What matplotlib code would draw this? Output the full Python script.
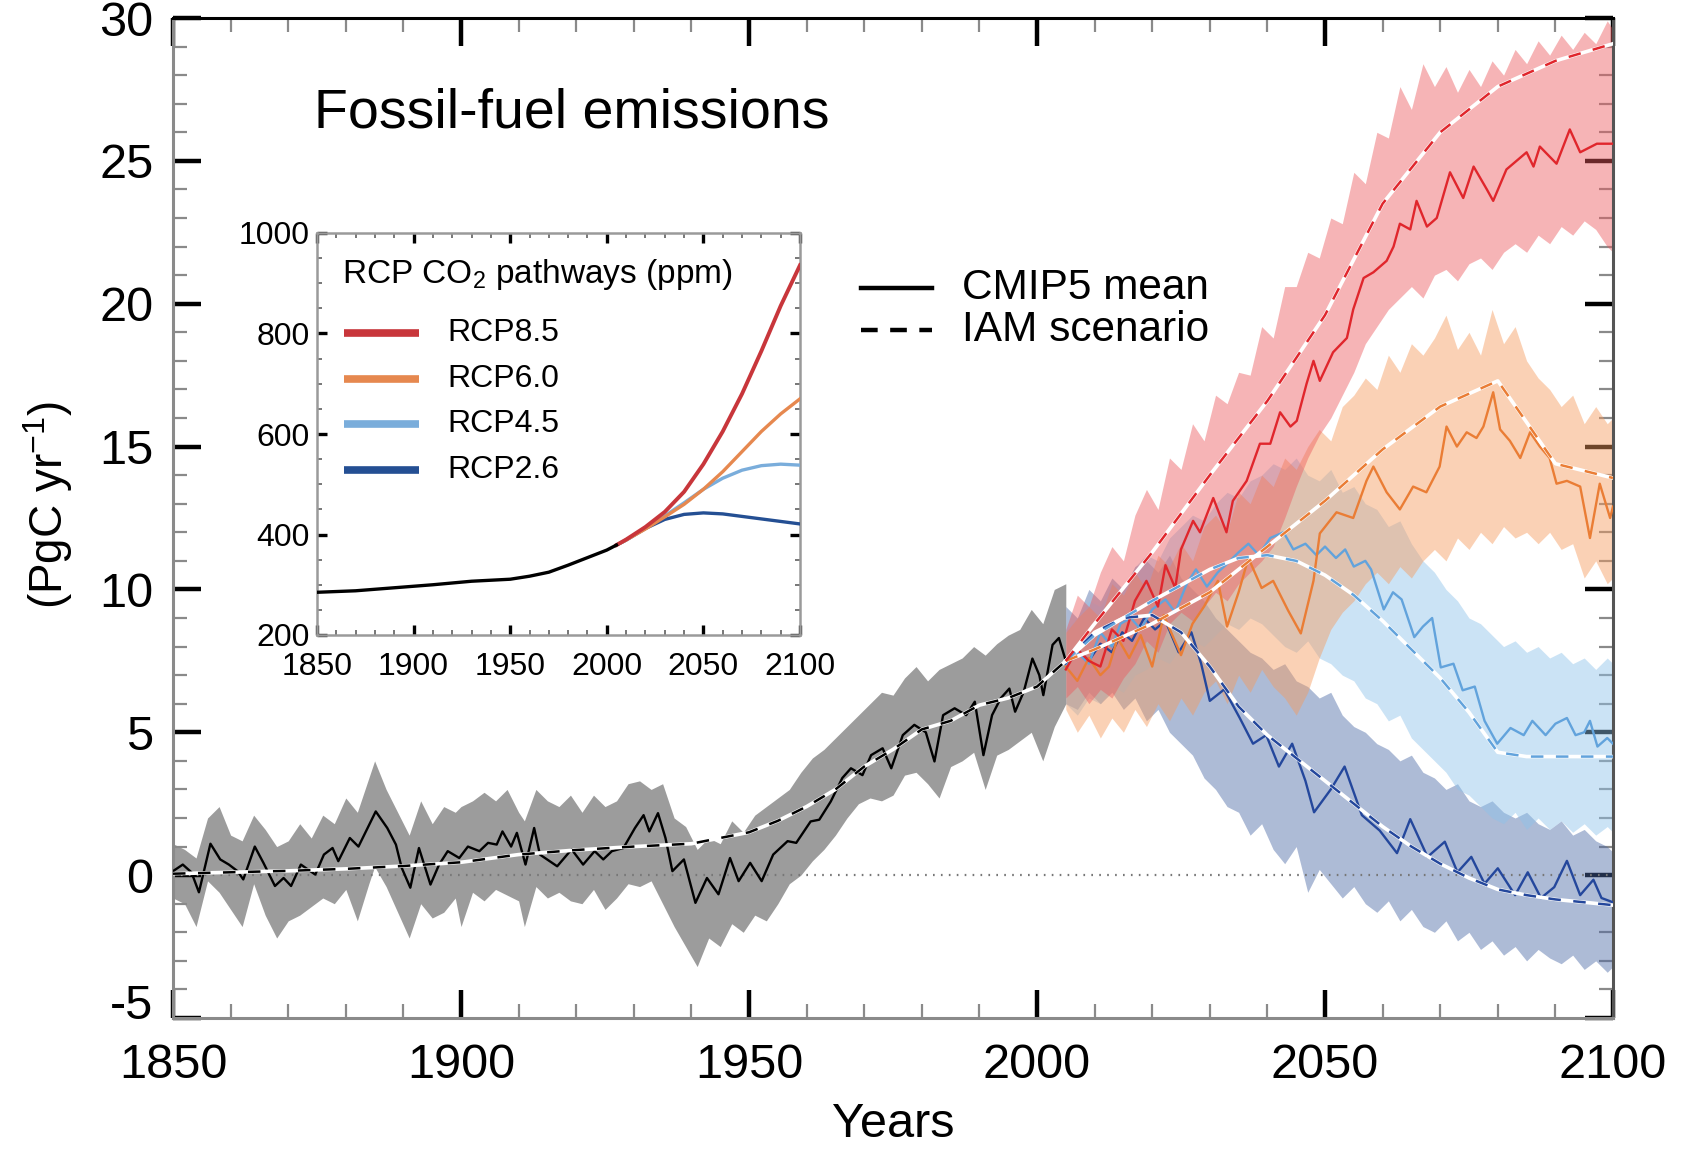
import matplotlib
matplotlib.use("Agg")
import matplotlib.pyplot as plt
import matplotlib.transforms as mtransforms
from matplotlib.lines import Line2D
from matplotlib.ticker import MultipleLocator

plt.rcParams['font.family'] = ['Liberation Sans', 'DejaVu Sans']
plt.rcParams['mathtext.default'] = 'regular'
plt.rcParams['lines.scale_dashes'] = False
plt.rcParams['axes.unicode_minus'] = False

# ---------------- main panel data (PgC/yr) ----------------
hist_years = [1850.0, 1851.7, 1853.2, 1854.5, 1856.5, 1858.2, 1859.7, 1861.2, 1862.2, 1864.2, 1865.7,
              1867.7, 1869.2, 1870.5, 1872.2, 1874.7, 1876.2, 1877.7, 1878.7, 1880.7, 1882.2, 1885.2,
              1887.2, 1888.7, 1889.7, 1891.2, 1892.7, 1894.7, 1896.2, 1897.7, 1899.7, 1901.2, 1903.2,
              1904.7, 1906.2, 1907.2, 1908.7, 1909.7, 1911.2, 1912.7, 1913.7, 1916.7, 1919.2, 1921.2,
              1923.2, 1924.7, 1926.2, 1928.2, 1930.2, 1931.7, 1932.7, 1934.2, 1935.5, 1936.7, 1938.7,
              1940.7, 1942.7, 1944.7, 1946.7, 1948.2, 1950.2, 1952.2, 1954.2, 1956.7, 1958.2, 1960.7,
              1962.2, 1964.2, 1966.2, 1967.7, 1969.7, 1971.2, 1973.2, 1974.7, 1976.7, 1978.7, 1980.7,
              1982.2, 1983.7, 1985.7, 1987.7, 1989.2, 1990.7, 1992.2, 1993.7, 1995.2, 1996.2, 1997.7,
              1999.2, 2000.4, 2001.1, 2002.7, 2003.8, 2005.0]
hist_mean = [0.14, 0.37, 0.10, -0.60, 1.10, 0.55, 0.37, 0.14, -0.15, 1.00, 0.43,
             -0.38, -0.10, -0.38, 0.37, 0.02, 0.72, 0.95, 0.49, 1.30, 1.00, 2.23,
             1.65, 1.07, 0.26, -0.44, 0.95, -0.33, 0.37, 0.84, 0.60, 1.00, 0.84,
             1.13, 1.07, 1.53, 1.00, 1.48, 0.37, 1.65, 0.72, 0.31, 0.90, 0.37,
             0.84, 0.55, 0.84, 0.95, 1.65, 2.10, 1.53, 2.17, 1.30, 0.14, 0.55,
             -0.97, -0.10, -0.67, 0.60, -0.21, 0.43, -0.21, 0.72, 1.19, 1.13, 1.88,
             1.94, 2.58, 3.40, 3.74, 3.50, 4.20, 4.44, 3.74, 4.90, 5.26, 5.00,
             3.98, 5.60, 5.84, 5.60, 6.07, 4.20, 5.60, 6.19, 6.53, 5.72, 6.42,
             7.58, 7.00, 6.30, 8.06, 8.30, 7.50]

hist_band_years = [1850, 1852, 1854, 1856, 1858, 1860, 1862, 1864, 1866, 1868, 1870, 1872, 1874,
                   1876, 1878, 1880, 1882, 1884, 1885, 1887, 1889, 1891, 1893, 1895, 1897, 1899,
                   1900, 1902, 1904, 1906, 1908, 1910, 1911, 1913, 1915, 1917, 1919, 1921, 1923,
                   1925, 1927, 1929, 1931, 1933, 1935, 1937, 1939, 1941, 1943, 1945, 1947, 1949,
                   1951, 1953, 1955, 1957, 1959, 1961, 1963, 1965, 1967, 1969, 1971, 1973, 1975,
                   1977, 1979, 1981, 1983, 1985, 1987, 1989, 1991, 1993, 1995, 1997, 1999, 2001,
                   2003, 2005]
hist_low = [-0.8, -1.0, -1.8, -0.2, -0.6, -1.2, -1.8, -0.3, -1.4, -2.2, -1.6, -1.4, -1.1,
            -0.8, -1.0, -0.5, -1.6, -0.3, 0.3, -0.4, -1.3, -2.2, -1.0, -1.5, -1.3, -0.8,
            -1.8, -0.6, -0.9, -0.5, -0.7, -0.9, -1.8, -0.4, -0.8, -0.6, -0.9, -1.0, -0.5,
            -1.2, -0.8, -0.3, -0.4, -0.2, -1.0, -1.8, -2.5, -3.2, -2.2, -2.5, -1.7, -2.0,
            -1.4, -1.6, -1.0, -0.3, 0.0, 0.5, 0.9, 1.4, 2.0, 2.5, 2.7, 2.6, 2.8,
            3.5, 3.6, 3.2, 2.7, 3.8, 4.0, 4.3, 3.0, 4.2, 4.4, 4.7, 5.0, 4.0,
            5.2, 6.0]
hist_high = [1.1, 0.9, 0.6, 2.0, 2.4, 1.4, 1.2, 2.1, 1.6, 1.0, 1.2, 1.8, 1.3,
             2.1, 1.8, 2.7, 2.2, 3.4, 4.0, 3.0, 2.2, 1.4, 2.6, 1.8, 2.4, 2.2,
             2.4, 2.6, 2.9, 2.6, 3.0, 2.2, 1.9, 3.0, 2.6, 2.4, 2.8, 2.2, 2.8,
             2.4, 2.6, 3.2, 3.3, 3.0, 3.2, 2.0, 1.7, 0.9, 1.3, 1.1, 1.9, 1.5,
             2.1, 2.4, 2.7, 3.0, 3.6, 4.1, 4.4, 4.8, 5.2, 5.6, 6.0, 6.4, 6.3,
             6.9, 7.3, 6.8, 7.2, 7.4, 7.6, 8.0, 7.7, 8.1, 8.4, 8.6, 9.3, 8.8,
             10.0, 10.2]

hist_iam_years = [1850, 1860, 1870, 1880, 1890, 1900, 1910, 1920, 1930, 1940, 1950, 1955, 1960,
                  1965, 1970, 1975, 1980, 1985, 1990, 1995, 2000, 2005]
hist_iam = [0.05, 0.1, 0.15, 0.22, 0.32, 0.45, 0.72, 0.88, 1.0, 1.1, 1.5, 1.9, 2.4,
            3.0, 3.8, 4.4, 5.1, 5.4, 5.95, 6.2, 6.6, 7.5]

# future ensembles (CMIP5 mean)
rcp85_years = [2005, 2007, 2009, 2011, 2013, 2015, 2017, 2019, 2021, 2022.3, 2024, 2025, 2027.1,
               2028.3, 2030.6, 2032.9, 2034, 2036.4, 2038.7, 2040.5, 2042.2, 2044, 2045.1, 2046.8,
               2048, 2049.1, 2051.4, 2053.8, 2054.9, 2056.7, 2058.4, 2060.7, 2061.9, 2063, 2064.8,
               2065.9, 2067.7, 2069.4, 2071.7, 2074, 2075.8, 2078.1, 2079.2, 2081.5, 2085, 2086.2,
               2087.3, 2090.2, 2092.5, 2094.3, 2097.2, 2100]
rcp85_mean = [7.2, 7.9, 7.5, 7.3, 8.6, 8.2, 9.6, 10.3, 9.4, 10.85, 10.05, 11.4, 12.4,
              12.0, 13.2, 12.0, 13.1, 13.8, 15.1, 15.1, 16.2, 15.7, 15.9, 17.2,
              18.0, 17.3, 18.3, 18.8, 19.8, 20.9, 21.1, 21.5, 22.0, 22.8, 22.6,
              23.6, 22.7, 23.0, 24.6, 23.7, 24.8, 24.0, 23.6, 24.7, 25.3, 24.8,
              25.5, 24.9, 26.1, 25.3, 25.6, 25.6]

rcp60_years = [2005, 2007, 2009, 2011, 2012.5, 2014, 2016, 2018, 2020, 2022, 2025, 2027, 2029,
               2031.4, 2033, 2035, 2036.7, 2039, 2041, 2043.6, 2045.8, 2048, 2049.1, 2052, 2054.9,
               2057.2, 2058.4, 2060.7, 2063, 2065.3, 2067.6, 2069.9, 2071.1, 2072.9, 2074.6,
               2076.3, 2077.5, 2079.2, 2080.4, 2082.1, 2083.9, 2085.6, 2087.3, 2089, 2090.2,
               2092, 2094.3, 2096, 2097.7, 2099.5, 2100]
rcp60_mean = [7.3, 6.8, 7.6, 7.0, 7.3, 8.3, 7.6, 8.4, 7.3, 9.1, 7.7, 8.8, 9.4,
              10.3, 8.7, 9.9, 11.1, 10.05, 10.3, 9.26, 8.46, 10.3, 11.96, 12.7, 12.5,
              13.8, 14.3, 13.4, 12.8, 13.6, 13.4, 14.3, 15.7, 15.0, 15.5,
              15.3, 15.7, 16.9, 15.6, 15.2, 14.6, 15.5, 15.0, 14.6, 13.7,
              13.8, 13.6, 11.8, 13.7, 12.5, 12.9]

rcp45_years = [2005, 2007, 2009, 2011, 2013, 2014.5, 2016.3, 2018, 2020, 2022.3, 2024, 2026,
               2027.6, 2029.5, 2031.4, 2033, 2035, 2036.7, 2038.5, 2040.5, 2042.8, 2044.5,
               2046.6, 2048.5, 2050, 2051.9, 2053.5, 2055, 2057, 2058, 2060.2, 2061.8, 2063.3,
               2065.5, 2067, 2068.6, 2070.1, 2072.3, 2073.9, 2076, 2077.7, 2079.9, 2082.2,
               2084.5, 2086, 2088.3, 2090, 2092, 2093.5, 2095, 2096, 2097.3, 2099, 2100]
rcp45_mean = [7.3, 7.8, 7.4, 8.5, 8.0, 8.8, 9.0, 8.6, 9.3, 9.65, 9.2, 10.2,
              10.7, 10.1, 10.6, 10.9, 11.3, 11.6, 11.2, 11.8, 12.0, 11.4,
              11.6, 11.2, 11.5, 11.1, 11.4, 10.8, 11.0, 10.7, 9.3, 9.9, 9.65,
              8.33, 8.7, 9.0, 7.27, 7.4, 6.47, 6.6, 5.4, 4.6, 5.15,
              4.9, 5.4, 4.9, 5.3, 5.5, 4.9, 5.0, 5.4, 4.5, 4.8, 4.6]

rcp26_years = [2005, 2007, 2009, 2011, 2013, 2014.8, 2016.5, 2018.6, 2020.5, 2022.3, 2024.6,
               2026.8, 2028.5, 2030, 2032.5, 2035.2, 2037.5, 2039.8, 2042, 2044.3, 2046.6,
               2048.1, 2051, 2053.4, 2056.4, 2059.5, 2062.5, 2064.8, 2067.8, 2070.8, 2073,
               2075.4, 2077.7, 2080, 2083, 2085.2, 2087.5, 2089.8, 2092, 2094.3, 2096.6,
               2098, 2100]
rcp26_mean = [7.4, 7.9, 7.5, 8.1, 7.8, 8.5, 8.2, 9.0, 8.6, 8.9, 7.8,
              8.5, 7.4, 6.1, 6.5, 5.5, 4.6, 4.9, 3.8, 4.6, 3.3,
              2.2, 3.0, 3.8, 2.1, 1.56, 0.77, 1.96, 0.64, 1.17, 0.1,
              0.64, -0.3, 0.24, -0.7, 0.1, -0.8, -0.42, 0.5, -0.7, -0.16,
              -0.8, -0.95]

# ensemble spread (shading), sampled every two years
band_years = list(range(2005, 2100, 2)) + [2100]
rcp85_low = [6.2, 6.6, 6.0, 6.5, 6.2, 6.9, 7.4, 8.2, 7.8, 8.8, 9.2, 8.9, 9.4, 9.9, 9.6, 10.2,
             10.6, 11.0, 11.5, 12.5, 13.6, 14.6, 15.4, 16.0, 16.8, 17.6, 18.6, 19.2, 19.8, 20.2,
             20.6, 20.2, 21.0, 21.2, 20.8, 21.4, 21.6, 21.2, 21.8, 22.1, 21.8, 22.4, 22.1, 22.7,
             22.4, 22.9, 22.6, 22.0, 21.8]
rcp85_high = [8.6, 9.8, 9.4, 10.6, 11.5, 11.0, 12.6, 13.5, 12.8, 14.6, 14.2, 15.8, 15.2, 16.8,
              16.5, 17.6, 17.5, 19.2, 18.8, 20.6, 20.6, 21.8, 21.6, 23.0, 22.8, 24.6, 24.2, 26.0,
              25.8, 27.6, 26.8, 28.4, 27.6, 28.3, 27.4, 28.2, 27.6, 28.5, 28.0, 28.9, 28.4, 29.2,
              28.7, 29.4, 28.9, 29.5, 29.1, 29.9, 29.6]
rcp60_low = [5.8, 5.0, 5.6, 4.8, 5.5, 5.0, 5.8, 5.2, 6.0, 5.4, 6.2, 5.6, 6.4, 6.8, 6.0, 7.0,
             6.4, 7.2, 6.6, 6.2, 5.6, 6.4, 7.6, 8.6, 9.2, 9.6, 10.2, 10.6, 10.2, 10.8, 10.4,
             11.0, 11.4, 11.0, 11.8, 11.4, 12.0, 11.6, 12.2, 11.8, 12.0, 11.6, 12.0, 11.4, 11.6,
             10.4, 11.0, 10.2, 10.4]
rcp60_high = [8.5, 9.0, 9.4, 9.0, 10.2, 9.8, 10.6, 10.0, 11.2, 10.8, 11.6, 11.0, 12.2, 12.6,
              12.0, 13.4, 13.0, 14.0, 13.6, 14.6, 14.2, 15.0, 15.6, 15.2, 16.4, 16.8, 17.4, 17.0,
              18.2, 17.6, 18.6, 18.2, 18.8, 19.6, 18.4, 19.0, 18.2, 19.8, 18.6, 19.2, 18.0, 17.4,
              17.0, 16.4, 16.8, 15.8, 16.4, 15.8, 16.0]
rcp45_low = [6.0, 5.6, 6.2, 6.0, 6.6, 6.4, 7.0, 7.2, 7.6, 7.4, 8.0, 8.2, 8.0, 8.4, 8.8, 8.6,
             9.0, 8.8, 8.4, 8.0, 7.8, 8.2, 7.6, 7.4, 7.0, 6.8, 6.2, 6.0, 5.4, 5.6, 4.8, 4.4,
             4.0, 3.6, 3.0, 2.8, 2.4, 2.0, 1.8, 2.2, 1.6, 2.0, 1.6, 1.9, 1.5, 1.8, 1.4, 1.7, 1.5]
rcp45_high = [8.6, 9.0, 9.6, 9.4, 10.2, 10.0, 10.8, 11.2, 11.0, 11.8, 12.2, 12.6, 12.4, 13.0,
              13.4, 13.2, 13.8, 14.0, 14.4, 14.2, 14.6, 14.0, 13.8, 14.2, 13.4, 13.6, 13.0, 12.8,
              12.2, 12.4, 11.6, 11.0, 10.6, 10.0, 9.6, 9.0, 8.8, 8.4, 8.0, 8.2, 7.8, 8.0, 7.6,
              7.8, 7.4, 7.6, 7.2, 7.6, 7.4]
rcp26_low = [6.0, 5.8, 6.4, 6.0, 6.4, 5.8, 6.2, 5.4, 5.8, 5.0, 4.6, 4.2, 3.4, 3.0, 2.4, 2.2,
             1.4, 1.8, 0.9, 0.4, 1.0, -0.6, 0.2, -0.3, -0.8, -0.4, -1.0, -1.3, -0.9, -1.6, -1.2,
             -1.8, -2.0, -1.6, -2.3, -2.0, -2.6, -2.3, -2.8, -2.5, -3.0, -2.6, -2.9, -3.1, -2.8,
             -3.3, -3.0, -3.4, -3.2]
rcp26_high = [9.4, 9.0, 10.0, 9.6, 10.4, 10.0, 10.8, 11.0, 10.6, 11.2, 10.4, 10.0, 9.6, 9.0,
              8.6, 8.2, 7.8, 7.6, 7.2, 7.4, 6.8, 6.6, 6.2, 6.4, 5.6, 5.2, 5.0, 4.6, 4.4, 4.0,
              4.2, 3.6, 3.4, 3.0, 3.2, 2.6, 2.4, 2.6, 2.2, 2.0, 2.2, 1.8, 1.6, 1.9, 1.4, 1.6,
              1.2, 1.0, 0.8]

# IAM scenarios (smooth)
rcp85_iam_years = [2005, 2010, 2020, 2030, 2040, 2050, 2060, 2070, 2080, 2090, 2100]
rcp85_iam = [7.5, 8.8, 11.3, 14.0, 16.6, 19.6, 23.5, 26.0, 27.6, 28.5, 29.1]
rcp60_iam_years = [2005, 2010, 2020, 2030, 2040, 2050, 2060, 2070, 2080, 2090, 2100]
rcp60_iam = [7.5, 7.9, 8.8, 9.9, 11.5, 13.1, 14.9, 16.4, 17.3, 14.4, 13.9]
rcp45_iam_years = [2005, 2010, 2020, 2030, 2035, 2040, 2045, 2050, 2055, 2060, 2065, 2070,
                   2075, 2080, 2085, 2090, 2100]
rcp45_iam = [7.5, 8.4, 9.6, 10.7, 11.1, 11.2, 11.0, 10.5, 9.8, 8.9, 7.9, 6.9,
             5.7, 4.3, 4.15, 4.15, 4.15]
rcp26_iam_years = [2005, 2010, 2015, 2020, 2025, 2030, 2035, 2040, 2045, 2050, 2055, 2060,
                   2065, 2070, 2075, 2080, 2085, 2090, 2095, 2100]
rcp26_iam = [7.5, 8.5, 9.0, 9.1, 8.5, 7.3, 5.9, 4.9, 4.1, 3.3, 2.5, 1.7,
             1.0, 0.4, -0.1, -0.5, -0.7, -0.85, -0.95, -1.05]

# ---------------- inset data (ppm) ----------------
co2_hist_years = [1850, 1870, 1890, 1910, 1930, 1950, 1960, 1970, 1980, 1990, 2000, 2005]
co2_hist = [285, 288, 294, 300, 307, 311, 317, 325, 339, 354, 369, 379]
co2_fut_years = [2005, 2010, 2020, 2030, 2040, 2050, 2060, 2070, 2080, 2090, 2100]
co2_rcp85 = [379, 390, 415, 445, 485, 540, 605, 680, 765, 855, 936]
co2_rcp60 = [379, 389, 411, 435, 460, 490, 525, 565, 605, 640, 670]
co2_rcp45 = [379, 389, 412, 437, 463, 490, 512, 528, 537, 540, 538]
co2_rcp26 = [379, 389, 412, 430, 440, 443, 441, 436, 431, 426, 421]

scen_labels = ['RCP8.5', 'RCP6.0', 'RCP4.5', 'RCP2.6']
main_x_ticks = [1850, 1900, 1950, 2000, 2050, 2100]
main_y_ticks = [-5, 0, 5, 10, 15, 20, 25, 30]
inset_y_ticks = [200, 400, 600, 800, 1000]

# ---------------- styling ----------------
line_cols = {'RCP8.5': '#e0262c', 'RCP6.0': '#ea7d35', 'RCP4.5': '#62a3dc', 'RCP2.6': '#24479c'}
band_cols = {'RCP8.5': '#ec5a5e', 'RCP6.0': '#f69a5c', 'RCP4.5': '#8dc2ea', 'RCP2.6': '#4a68a6'}
inset_cols = {'RCP8.5': '#c8363b', 'RCP6.0': '#e6884f', 'RCP4.5': '#7aaddb', 'RCP2.6': '#244f93'}

W, H = 1685, 1151
fig = plt.figure(figsize=(W / 100, H / 100), dpi=100)
ax = fig.add_axes([173 / W, 1 - 1018 / H, 1440 / W, 1000 / H])

# historical band
ax.fill_between(hist_band_years, hist_low, hist_high, color='#9c9c9c', lw=0, zorder=1)

bands = [('RCP2.6', rcp26_low, rcp26_high), ('RCP4.5', rcp45_low, rcp45_high),
         ('RCP6.0', rcp60_low, rcp60_high), ('RCP8.5', rcp85_low, rcp85_high)]
for name, lo, hi in bands:
    ax.fill_between(band_years, lo, hi, color=band_cols[name], alpha=0.45, lw=0, zorder=2)

ax.axhline(0, color='#777777', lw=1.6, ls=(0, (1.2, 4.5)), zorder=2.5)

means = [('RCP2.6', rcp26_years, rcp26_mean), ('RCP4.5', rcp45_years, rcp45_mean),
         ('RCP6.0', rcp60_years, rcp60_mean), ('RCP8.5', rcp85_years, rcp85_mean)]
for name, yrs, vals in means:
    ax.plot(yrs, vals, color=line_cols[name], lw=1.7, zorder=3)
ax.plot(hist_years, hist_mean, color='black', lw=1.7, zorder=3)

iams = [('RCP2.6', rcp26_iam_years, rcp26_iam), ('RCP4.5', rcp45_iam_years, rcp45_iam),
        ('RCP6.0', rcp60_iam_years, rcp60_iam), ('RCP8.5', rcp85_iam_years, rcp85_iam)]
dash = (0, (9, 9))
for name, yrs, vals in iams:
    ax.plot(yrs, vals, color='white', lw=2.6, zorder=4)
    ax.plot(yrs, vals, color=line_cols[name], lw=1.8, ls=dash, zorder=5)
ax.plot(hist_iam_years, hist_iam, color='white', lw=2.6, zorder=4)
ax.plot(hist_iam_years, hist_iam, color='black', lw=1.8, ls=dash, zorder=5)

ax.set_xlim(1850, 2100)
ax.set_ylim(-5, 30)
ax.set_xticks(main_x_ticks)
ax.set_yticks(main_y_ticks)
ax.xaxis.set_minor_locator(MultipleLocator(10))
ax.yaxis.set_minor_locator(MultipleLocator(1))
ax.tick_params(which='both', direction='in', top=True, right=True)
ax.tick_params(which='major', length=20, width=3.2, color='black', labelsize=35, pad=14)
ax.tick_params(which='minor', length=10, width=1.6, color='#8a8a8a')
ax.tick_params(axis='x', which='major', pad=18)
for s in ['left', 'bottom']:
    ax.spines[s].set_color('#8a8a8a')
    ax.spines[s].set_linewidth(2.2)
ax.spines['right'].set_color('#555555')
ax.spines['right'].set_linewidth(2.2)
ax.spines['top'].set_color('black')
ax.spines['top'].set_linewidth(2.2)

# the lowest y label sits slightly above the axis line in the original
lowest = ax.yaxis.get_major_ticks()[0].label1
lowest.set_transform(lowest.get_transform() +
                     mtransforms.ScaledTranslation(0, 12 / 72, fig.dpi_scale_trans))

ax.set_xlabel('Years', fontsize=35, labelpad=10)
fig.text(48 / W, 1 - 505 / H, '(PgC yr$^{-1}$)', rotation=90, fontsize=33,
         ha='center', va='center')
ax.text(0.098, 0.905, 'Fossil-fuel emissions', transform=ax.transAxes, fontsize=40,
        ha='left', va='center')

# main legend
ax.add_line(Line2D([0.478, 0.527], [0.730, 0.730], transform=ax.transAxes, color='black', lw=3.2))
ax.add_line(Line2D([0.478, 0.527], [0.688, 0.688], transform=ax.transAxes, color='black', lw=3.2,
                   ls=(0, (12, 9))))
ax.text(0.548, 0.730, 'CMIP5 mean', transform=ax.transAxes, fontsize=30.5, va='center', ha='left')
ax.text(0.548, 0.688, 'IAM scenario', transform=ax.transAxes, fontsize=30.5, va='center', ha='left')

# ---------------- inset ----------------
ax2 = fig.add_axes([317 / W, 1 - 635 / H, 483 / W, 402 / H])
ax2.plot(co2_fut_years, co2_rcp26, color=inset_cols['RCP2.6'], lw=2.4, zorder=3)
ax2.plot(co2_fut_years, co2_rcp45, color=inset_cols['RCP4.5'], lw=2.4, zorder=3)
ax2.plot(co2_fut_years, co2_rcp60, color=inset_cols['RCP6.0'], lw=2.4, zorder=3)
ax2.plot(co2_fut_years, co2_rcp85, color=inset_cols['RCP8.5'], lw=2.8, zorder=3)
ax2.plot(co2_hist_years, co2_hist, color='black', lw=2.4, zorder=4)
ax2.set_xlim(1850, 2100)
ax2.set_ylim(200, 1000)
ax2.set_xticks(main_x_ticks)
ax2.set_yticks(inset_y_ticks)
ax2.xaxis.set_minor_locator(MultipleLocator(10))
ax2.yaxis.set_minor_locator(MultipleLocator(50))
ax2.tick_params(which='both', direction='in', top=True, right=True)
ax2.tick_params(which='major', length=7, width=2.4, color='black', labelsize=23)
ax2.tick_params(axis='y', which='major', pad=5)
ax2.tick_params(axis='x', which='major', pad=12)
ax2.tick_params(which='minor', length=3.5, width=1.4, color='#777777')
for s in ax2.spines.values():
    s.set_color('#9a9a9a')
    s.set_linewidth(1.8)

ax2.text(0.052, 0.898, 'RCP CO$_2$ pathways (ppm)', transform=ax2.transAxes, fontsize=24,
         ha='left', va='center')
leg_rows = [0.751, 0.637, 0.525, 0.410]
for name, yy in zip(scen_labels, leg_rows):
    ax2.add_line(Line2D([0.056, 0.211], [yy, yy], transform=ax2.transAxes,
                        color=inset_cols[name], lw=5.5, solid_capstyle='butt'))
    ax2.text(0.269, yy, name, transform=ax2.transAxes, fontsize=23, ha='left', va='center')

fig.savefig('out.png', dpi=100)
